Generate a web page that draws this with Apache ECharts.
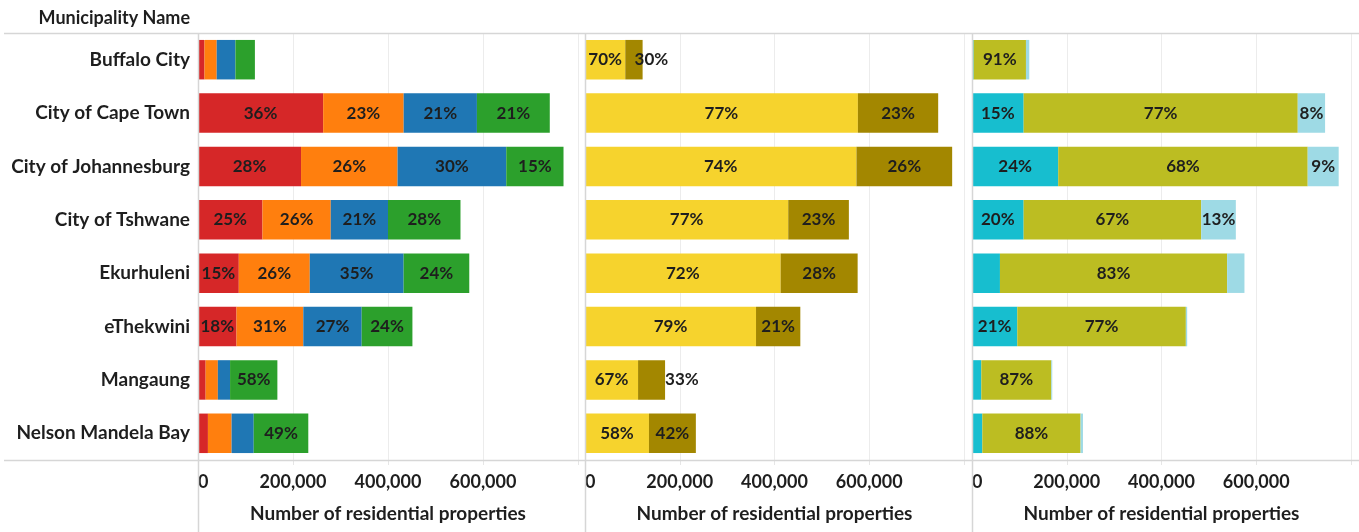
<!DOCTYPE html>
<html>
<head>
<meta charset="utf-8">
<title>Residential properties by municipality</title>
<script src="https://cdn.jsdelivr.net/npm/echarts@6/dist/echarts.min.js"></script>
<style>
    html, body { margin: 0; padding: 0; background: #fff; }
    #main { width: 1359px; height: 532px; }
</style>
</head>
<body>
<div id="main"></div>
<script>
    // municipalities, top to bottom
    var categories = ['Buffalo City', 'City of Cape Town', 'City of Johannesburg', 'City of Tshwane',
        'Ekurhuleni', 'eThekwini', 'Mangaung', 'Nelson Mandela Bay'];

    // x axis ticks
    var tickValues = [0, 200000, 400000, 600000];
    var axisMax = 800000;
    var axisTitle = 'Number of residential properties';

    // panel 1 - four groups
    var p1Red    = [13700, 263500, 216900, 135700,  85900,  81100,  16100,  20900];
    var p1Orange = [25700, 169500, 203200, 143800, 149400, 140600,  25700,  49800];
    var p1Blue   = [39400, 154200, 228900, 120500, 197600, 122900,  25700,  46600];
    var p1Green  = [41000, 153400, 120500, 152600, 138200, 106800,  99600, 114900];
    var p1RedLbl    = [null, '36%', '28%', '25%', '15%', '18%', null, null];
    var p1OrangeLbl = [null, '23%', '26%', '26%', '26%', '31%', null, null];
    var p1BlueLbl   = [null, '21%', '30%', '21%', '35%', '27%', null, null];
    var p1GreenLbl  = [null, '21%', '15%', '28%', '24%', '24%', '58%', '49%'];

    // panel 2 - two groups
    var p2Yellow = [85000, 576000, 573000, 429000, 413000, 361000, 112000, 135000];
    var p2Gold   = [36600, 169500, 202000, 128000, 162500,  93500,  57000,  99000];
    var p2YellowLbl = ['70%', '77%', '74%', '77%', '72%', '79%', '67%', '58%'];
    var p2GoldLbl   = ['30%', '23%', '26%', '23%', '28%', '21%', '33%', '42%'];

    // panel 3 - three groups
    var p3Cyan  = [  3500, 109000, 182000, 109000,  59000,  95600,  19700,  21800];
    var p3Olive = [110400, 578600, 526600, 374800, 479500, 355800, 147700, 207400];
    var p3Light = [  7000,  57700,  65400,  73100,  36600,   2800,   2000,   5000];
    var p3CyanLbl  = [null, '15%', '24%', '20%', null, '21%', null, null];
    var p3OliveLbl = ['91%', '77%', '68%', '67%', '83%', '77%', '87%', '88%'];
    var p3LightLbl = [null, '8%', '9%', '13%', null, null, null, null];

    var FONT = 'Lato, "Open Sans", sans-serif';
    var TXT = '#1e1e1e';
    var LINE = '#d6d6d6';

    // panel boxes (left edge, width)
    var panels = [
        {left: 198, width: 380},
        {left: 585, width: 379},
        {left: 972, width: 379}
    ];

    function fmt(v) {
        return String(v).replace(/\B(?=(\d{3})+(?!\d))/g, ',');
    }

    var grids = [], xAxes = [], yAxes = [];
    panels.forEach(function (p, i) {
        grids.push({left: p.left, width: p.width, top: 33, bottom: 72});
        xAxes.push({
            type: 'value', gridIndex: i, min: 0, max: axisMax, interval: 200000,
            name: axisTitle, nameLocation: 'middle', nameGap: 44,
            nameTextStyle: {fontFamily: FONT, fontSize: 19, fontWeight: 'bold', color: TXT},
            axisLine: {show: false},
            axisTick: {show: true, length: 5, lineStyle: {color: '#e6e6e6'}},
            splitLine: {show: true, lineStyle: {color: '#ececec', width: 1}},
            axisLabel: {
                fontFamily: FONT, fontSize: 18, fontWeight: 'bold', color: TXT, margin: 13,
                alignMinLabel: 'left',
                formatter: function (v) { return tickValues.indexOf(v) >= 0 ? fmt(v) : ''; }
            }
        });
        yAxes.push({
            type: 'category', gridIndex: i, data: categories, inverse: true,
            axisLine: {show: false}, axisTick: {show: false}, splitLine: {show: false},
            axisLabel: {
                show: i === 0, margin: 8,
                fontFamily: FONT, fontSize: 19, fontWeight: 'bold', color: TXT
            }
        });
    });

    function bar(name, panel, values, labels, color, overrides) {
        var data = values.map(function (v, k) {
            var item = {value: v};
            if (overrides && overrides[k] !== undefined) {
                item.label = {position: 'right', distance: overrides[k]};
            }
            return item;
        });
        return {
            name: name, type: 'bar', stack: 'p' + panel,
            xAxisIndex: panel, yAxisIndex: panel,
            barCategoryGap: '26%',
            itemStyle: {color: color},
            label: {
                show: true, position: 'inside',
                fontFamily: FONT, fontSize: 17, fontWeight: 'bold', color: TXT,
                formatter: function (p) { return labels[p.dataIndex] || ''; }
            },
            data: data
        };
    }

    var series = [
        bar('Group 1', 0, p1Red, p1RedLbl, '#d62728'),
        bar('Group 2', 0, p1Orange, p1OrangeLbl, '#ff7f0e'),
        bar('Group 3', 0, p1Blue, p1BlueLbl, '#1f77b4'),
        bar('Group 4', 0, p1Green, p1GreenLbl, '#2ca02c'),
        bar('Part A', 1, p2Yellow, p2YellowLbl, '#f6d32d'),
        bar('Part B', 1, p2Gold, p2GoldLbl, '#a38700', {0: -8, 6: 0}),
        bar('Type 1', 2, p3Cyan, p3CyanLbl, '#17becf'),
        bar('Type 2', 2, p3Olive, p3OliveLbl, '#bcbd22'),
        bar('Type 3', 2, p3Light, p3LightLbl, '#9edae5')
    ];

    // frame lines: header rule, bottom rule, panel zero lines
    var graphics = [
        {type: 'text', right: 1359 - 190, top: 9,
            style: {text: 'Municipality Name', font: 'bold 18px ' + FONT, fill: TXT}},
        {type: 'line', shape: {x1: 4, y1: 33.5, x2: 1359, y2: 33.5}, style: {stroke: LINE, lineWidth: 1.5}, z: 10},
        {type: 'line', shape: {x1: 4, y1: 460.5, x2: 1359, y2: 460.5}, style: {stroke: LINE, lineWidth: 1.5}, z: 10}
    ];
    panels.forEach(function (p) {
        graphics.push({type: 'line', shape: {x1: p.left + 0.5, y1: 33, x2: p.left + 0.5, y2: 532},
            style: {stroke: LINE, lineWidth: 1.5}, z: 10});
    });

    var chart = echarts.init(document.getElementById('main'), null, {renderer: 'canvas'});
    chart.setOption({
        animation: false,
        backgroundColor: '#fff',
        grid: grids,
        xAxis: xAxes,
        yAxis: yAxes,
        series: series,
        graphic: graphics
    });
</script>
</body>
</html>
